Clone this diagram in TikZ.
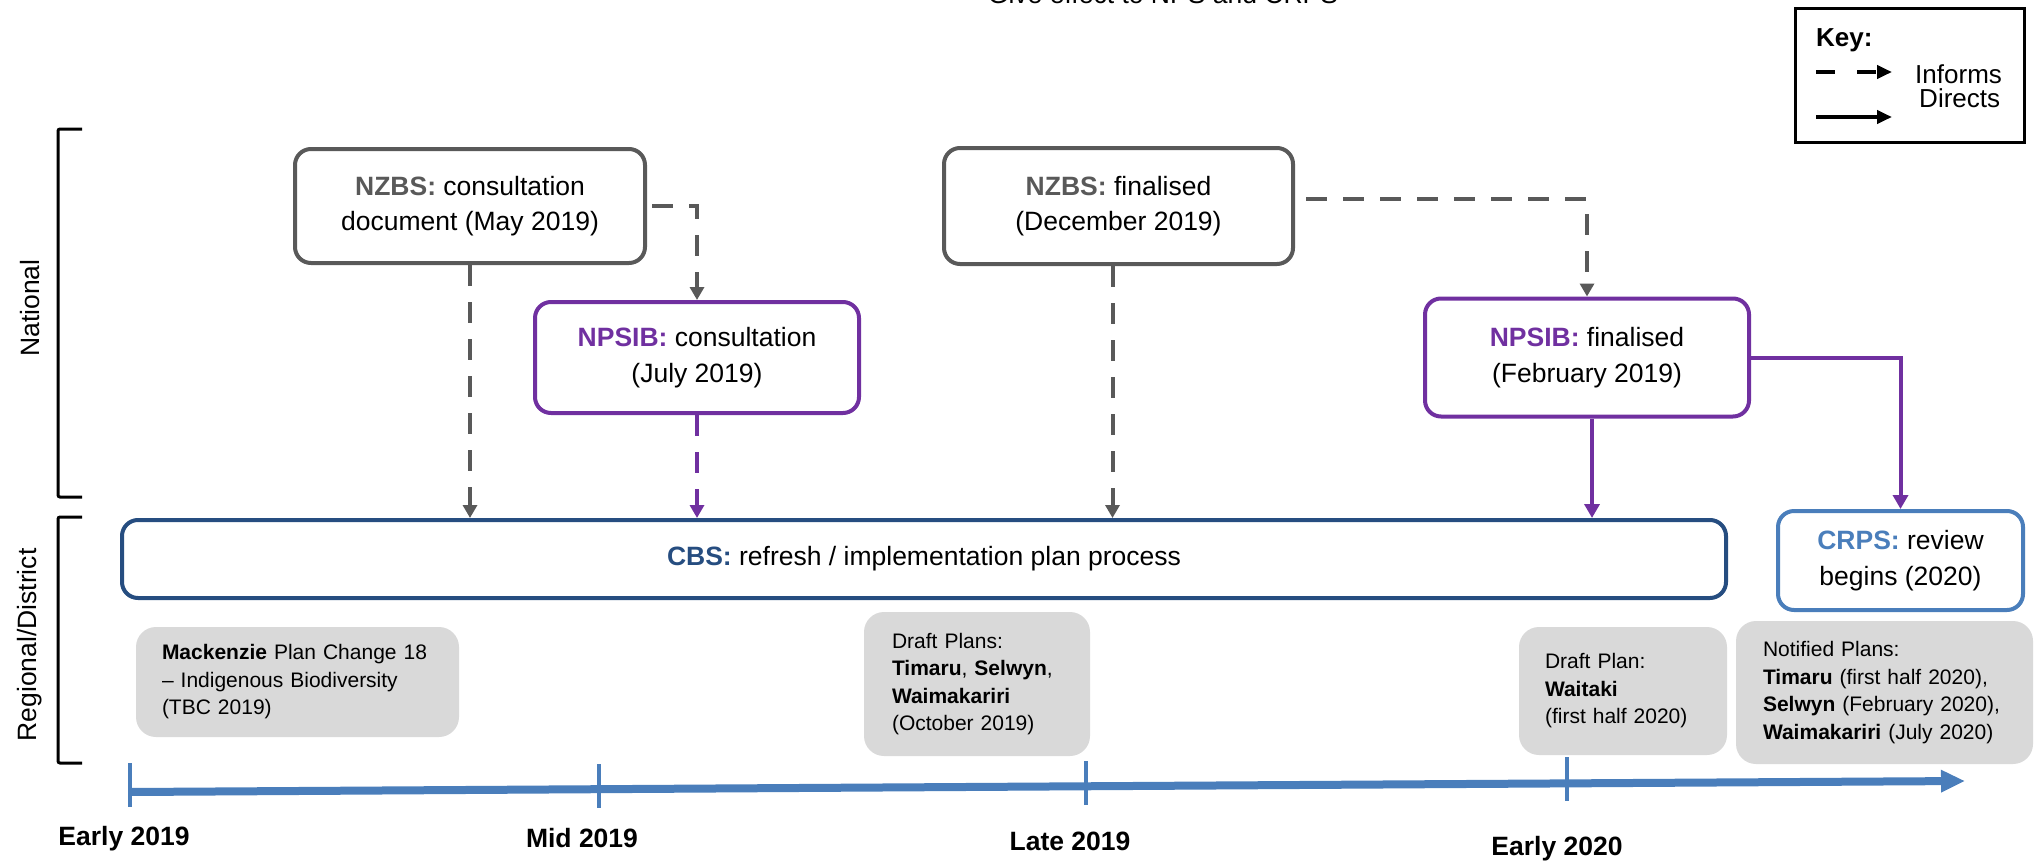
\documentclass[tikz,border=0pt]{standalone}
\usepackage{fontspec}
\setmainfont{Liberation Sans}
\usetikzlibrary{positioning,arrows.meta}

\definecolor{nzgray}{HTML}{595959}
\definecolor{npurple}{HTML}{7030A0}
\definecolor{cbsblue}{HTML}{264D80}
\definecolor{crpsblue}{HTML}{4A7EBB}
\definecolor{planfill}{HTML}{D9D9D9}

\newcommand{\nzbs}{\textcolor{nzgray}{\textbf{NZBS:}}}
\newcommand{\npsib}{\textcolor{npurple}{\textbf{NPSIB:}}}

\begin{document}
\begin{tikzpicture}[
    x=1pt, y=-1pt,
    boxtext/.style={font=\fontsize{26.5}{35.5}\selectfont, align=center, inner sep=0pt},
    natbox/.style={boxtext, draw=nzgray, line width=4pt, rounded corners=16pt},
    npsbox/.style={boxtext, draw=npurple, line width=4pt, rounded corners=16pt},
    planbox/.style={fill=planfill, rounded corners=20pt, align=left, inner ysep=0pt,
        font=\fontsize{21}{27.5}\selectfont},
    informs/.style={-{Triangle[length=13pt,width=14pt]}, line width=4pt, dash pattern=on 21pt off 16pt},
    directs/.style={-{Triangle[length=14pt,width=15pt]}, line width=4pt},
    tlabel/.style={font=\fontsize{26.5}{30}\selectfont\bfseries, anchor=base, inner sep=0pt},
    keytext/.style={font=\fontsize{26}{30}\selectfont, anchor=base west, inner sep=0pt}
]
\useasboundingbox (0,0) rectangle (2036,862);

\node[boxtext, anchor=base] (title) at (1163,3.5) {Give effect to NPS and CRPS};

% key
\node[draw, line width=3pt, minimum width=229pt, minimum height=134pt, inner sep=0pt] (key) at (1910,75.5) {};
\node[keytext] (keyhead) at (1816,46) {\textbf{Key:}};
\coordinate (infA) at (1816,72);
\coordinate (infB) at (1892,72);
\coordinate (dirA) at (1816,117);
\coordinate (dirB) at (1892,117);
\draw[informs, dash pattern=on 19pt off 22pt, -{Triangle[length=15pt,width=13pt]}] (infA) -- (infB);
\draw[directs, -{Triangle[length=15pt,width=13pt]}] (dirA) -- (dirB);
\node[keytext] (infT) at (1915,83) {Informs};
\node[keytext] (dirT) at (1919,107) {Directs};

% levels
\draw[line width=3pt, rounded corners=2pt] (82,129) -| (58,497) -- (82,497);
\draw[line width=3pt, rounded corners=2pt] (82,517) -| (58,763) -- (82,763);
\node[boxtext, rotate=90] (natl) at (30,308) {National};
\node[boxtext, rotate=90] (regl) at (30,645) {Regional/District};

% national documents
\node[natbox, minimum width=350pt, minimum height=114pt] (nzbsA) at (470,206) {\nzbs{} consultation\\document (May 2019)};
\node[natbox, minimum width=349pt, minimum height=116pt, right=295pt of nzbsA] (nzbsB) {\nzbs{} finalised\\(December 2019)};
\node[npsbox, minimum width=324pt, minimum height=111pt] (npsibA) at (697,357.5) {\npsib{} consultation\\(July 2019)};
\node[npsbox, minimum width=324pt, minimum height=118pt, right=562pt of npsibA] (npsibB) {\npsib{} finalised\\(February 2019)};

% regional
\node[boxtext, draw=cbsblue, line width=4pt, rounded corners=16pt, minimum width=1604pt, minimum height=78pt] (cbs) at (924,559) {\textcolor{cbsblue}{\textbf{CBS:}} refresh / implementation plan process};
\node[boxtext, draw=crpsblue, line width=4pt, rounded corners=16pt, minimum width=245pt, minimum height=99pt] (crps) at (1900.5,560.5) {\textcolor{crpsblue}{\textbf{CRPS:}} review\\begins (2020)};

\node[planbox, text width=271pt, inner xsep=26pt, minimum height=110pt] (mack) at (297.5,682) {\textbf{Mackenzie} Plan Change 18\\\textendash{} Indigenous Biodiversity\\(TBC 2019)};
\node[planbox, text width=170pt, inner xsep=28pt, minimum height=144pt] (draft) at (977,684) {Draft Plans:\\\textbf{Timaru}, \textbf{Selwyn},\\\textbf{Waimakariri}\\(October 2019)};
\node[planbox, text width=156pt, inner xsep=26pt, minimum height=128pt] (waitaki) at (1623,691) {Draft Plan:\\\textbf{Waitaki}\\(first half 2020)};
\node[planbox, text width=243pt, inner xsep=27pt, minimum height=143pt] (notified) at (1884.5,692.5) {Notified Plans:\\\textbf{Timaru} (first half 2020),\\\textbf{Selwyn} (February 2020),\\\textbf{Waimakariri} (July 2020)};

% connectors
\draw[informs, nzgray] (nzbsA.south) -- (nzbsA.south |- cbs.north);
\draw[informs, nzgray] ([xshift=5pt]nzbsA.east) -| (npsibA.north);
\draw[informs, npurple] (npsibA.south) -- (npsibA.south |- cbs.north);
\draw[informs, nzgray] ([xshift=-6pt]nzbsB.south) -- ([xshift=-6pt]nzbsB.south |- cbs.north);
\draw[informs, nzgray] ([xshift=11pt,yshift=7pt]nzbsB.east) -| (npsibB.north);
\draw[directs, npurple] ([xshift=5pt]npsibB.south) -- ([xshift=5pt]npsibB.south |- cbs.north);
\draw[directs, npurple] (npsibB.east) -| (crps.north);

% timeline
\coordinate (tlA) at (130,792);
\coordinate (tlB) at (1965,781);
\draw[crpsblue, line width=8pt, -{Triangle[length=24pt,width=21pt]}] (tlA) -- (tlB);
\draw[crpsblue, line width=4.5pt] (130,763) -- (130,807) (599,764) -- (599,808)
    (1086,761) -- (1086,805) (1567,757) -- (1567,801);
\node[tlabel] (early19) at (124,845) {Early 2019};
\node[tlabel] (mid19) at (582,847) {Mid 2019};
\node[tlabel] (late19) at (1070,850) {Late 2019};
\node[tlabel] (early20) at (1557,855) {Early 2020};

\end{tikzpicture}
\end{document}
